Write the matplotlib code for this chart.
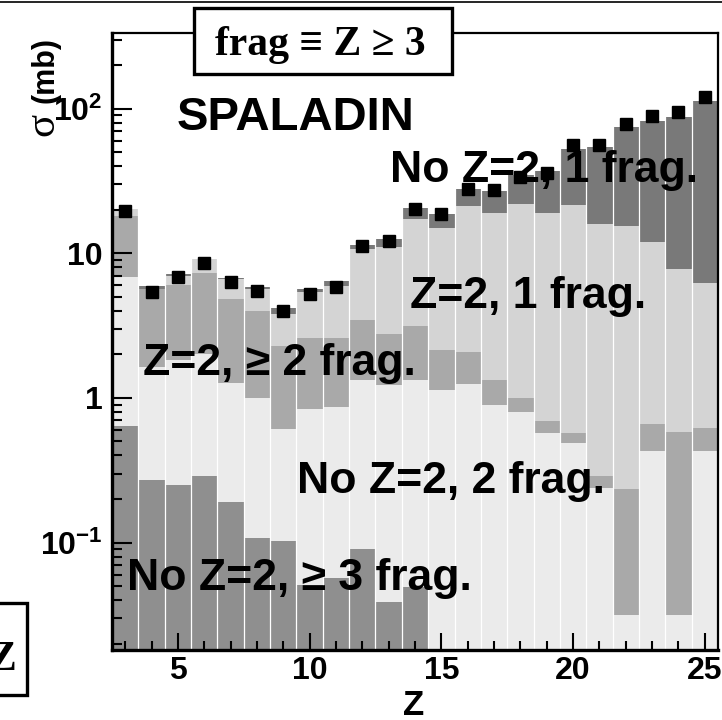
import numpy as np
import matplotlib.pyplot as plt
from matplotlib.patches import Rectangle
from matplotlib.lines import Line2D
from matplotlib.ticker import FixedLocator, NullFormatter

plt.rcParams['font.family'] = ['Liberation Sans', 'DejaVu Sans']
plt.rcParams['font.weight'] = 'bold'
plt.rcParams['mathtext.fontset'] = 'custom'
plt.rcParams['mathtext.rm'] = 'Liberation Sans:bold'
plt.rcParams['mathtext.it'] = 'Liberation Sans:bold'
plt.rcParams['mathtext.bf'] = 'Liberation Sans:bold'

# fragment charge and cross sections (mb) per channel
Z = np.arange(3, 26)
no_z2_3frag = [0.64, 0.27, 0.25, 0.29, 0.19, 0.107, 0.103, 0.051, 0.057, 0.090, 0.039, 0.049,
               0, 0, 0, 0, 0, 0, 0, 0, 0, 0, 0]
no_z2_2frag = [6.18, 1.36, 1.58, 1.74, 1.08, 0.90, 0.505, 0.786, 0.807, 1.24, 1.19, 1.28,
               1.13, 1.24, 0.90, 0.806, 0.568, 0.485, 0.239, 0.0314, 0.428, 0.0314, 0.428]
z2_2frag = [11.4, 4.06, 4.2, 5.24, 3.54, 2.98, 1.67, 1.76, 1.74, 2.12, 1.53, 1.81,
            1.01, 0.84, 0.44, 0.19, 0.123, 0.083, 0.049, 0.202, 0.228, 0.551, 0.187]
z2_1frag = [2.0, 0.0, 0.97, 1.91, 1.83, 1.64, 1.56, 2.83, 3.37, 7.25, 8.34, 14.06,
            12.96, 19.2, 17.56, 20.8, 18.4, 21.2, 15.6, 15.3, 11.3, 7.21, 5.65]
no_z2_1frag = [0.0, 0.28, 0.19, 0.0, 0.14, 0.24, 0.34, 0.29, 0.46, 0.7, 1.5, 3.3,
               3.6, 6.6, 8.1, 13.0, 18.2, 30.7, 38.3, 59.0, 70.8, 80.4, 106.7]
measured = [19.6, 5.42, 6.82, 8.53, 6.33, 5.51, 4.01, 5.23, 5.82, 11.2, 12.2, 20.2,
            18.6, 27.9, 27.3, 34.0, 36.0, 56.5, 56.5, 78.5, 89.5, 94.5, 121.0]

W, H = 722, 720
fig = plt.figure(figsize=(W / 100, H / 100), dpi=100)


def fx(x):
    return x / W


def fy(y):
    return 1 - y / H


ax = fig.add_axes([fx(112), fy(649.5), fx(718) - fx(112), fy(33.3) - fy(649.5)])
ax.set_yscale('log')

layers = [
    (no_z2_3frag, '#8f8f8f'),
    (no_z2_2frag, '#ebebeb'),
    (z2_2frag, '#a9a9a9'),
    (z2_1frag, '#d4d4d4'),
    (no_z2_1frag, '#797979'),
]
bottom = np.zeros(len(Z))
for vals, col in layers:
    vals = np.array(vals)
    ax.bar(Z, vals, bottom=bottom, width=1.0, color=col, linewidth=0, zorder=1)
    bottom = bottom + vals

# thin white separators between bins
for z in Z[:-1]:
    ax.axvline(z + 0.5, color='white', lw=0.9, zorder=1.5)

ax.plot(Z, measured, 's', color='black', ms=8.6, zorder=3)

ax.set_xlim(2.5, 25.5)
ax.set_ylim(0.0182, 333)

ax.set_xticks([5, 10, 15, 20, 25])
ax.set_xticklabels(['5', '10', '15', '20', '25'])
ax.xaxis.set_minor_locator(FixedLocator(list(range(3, 26))))
ax.set_yticks([0.1, 1, 10, 100])
ax.set_yticklabels(['10$^{-1}$', '1', '10', '10$^{2}$'])
minors = [m * 10.0 ** e for e in range(-2, 3) for m in range(2, 10)]
ax.yaxis.set_minor_locator(FixedLocator(minors))
ax.yaxis.set_minor_formatter(NullFormatter())

ax.tick_params(axis='both', which='both', direction='in', top=False, right=False,
               width=1.5, labelsize=23)
ax.tick_params(axis='y', which='major', length=14.5, pad=7)
ax.tick_params(axis='y', which='minor', length=7.5)
ax.tick_params(axis='x', which='major', length=12.5, pad=5)
ax.tick_params(axis='x', which='minor', length=6.5)
for lab in ax.get_xticklabels() + ax.get_yticklabels():
    lab.set_fontweight('bold')

ax.spines['left'].set_linewidth(2.4)
ax.spines['bottom'].set_linewidth(2.4)
ax.spines['top'].set_linewidth(1.6)
ax.spines['right'].set_linewidth(1.6)

# channel labels
txt = dict(fontsize=32, fontweight='bold', va='baseline', ha='left', zorder=5)
fig.text(fx(177), fy(130), 'SPALADIN', fontsize=34, fontweight='bold', va='baseline')
fig.text(fx(390), fy(182), 'No Z=2, 1 frag.', **txt)
fig.text(fx(410), fy(308), 'Z=2, 1 frag.', **txt)
fig.text(fx(143), fy(375), 'Z=2, \u2265 2 frag.', **txt)
fig.text(fx(297), fy(493), 'No Z=2, 2 frag.', **txt)
fig.text(fx(127), fy(590), 'No Z=2, \u2265 3 frag.', **txt)

# axis titles
fig.text(fx(414), fy(715), 'Z', fontsize=25, fontweight='bold', ha='center', va='baseline')
fig.text(fx(53), fy(136), '\u03c3', fontsize=31, family='Liberation Serif',
         fontweight='normal', rotation=90, rotation_mode='anchor', ha='left', va='baseline')
fig.text(fx(53), fy(103), '(mb)', fontsize=22, fontweight='bold',
         rotation=90, rotation_mode='anchor', ha='left', va='baseline')

# definition box
fig.patches.append(Rectangle((fx(194), fy(74)), fx(452) - fx(194), fy(8) - fy(74),
                             transform=fig.transFigure, facecolor='white',
                             edgecolor='black', lw=2.4, zorder=10))
fig.text(fx(215), fy(55), 'frag \u2261 Z \u2265 3', fontsize=30, fontweight='bold',
         family='Liberation Serif', va='baseline', ha='left', zorder=11)

# neighbouring box at the lower left edge
fig.patches.append(Rectangle((fx(-20), fy(695)), fx(27) - fx(-20), fy(603) - fy(695),
                             transform=fig.transFigure, facecolor='white',
                             edgecolor='black', lw=2.4, zorder=10))
fig.text(fx(17), fy(670), 'Z', fontsize=30, fontweight='bold',
         family='Liberation Serif', va='baseline', ha='right', zorder=11)

fig.lines.append(Line2D([0, 1], [fy(2.3), fy(2.3)], transform=fig.transFigure,
                        color='black', lw=1.2))

fig.savefig('out.png', dpi=100)
